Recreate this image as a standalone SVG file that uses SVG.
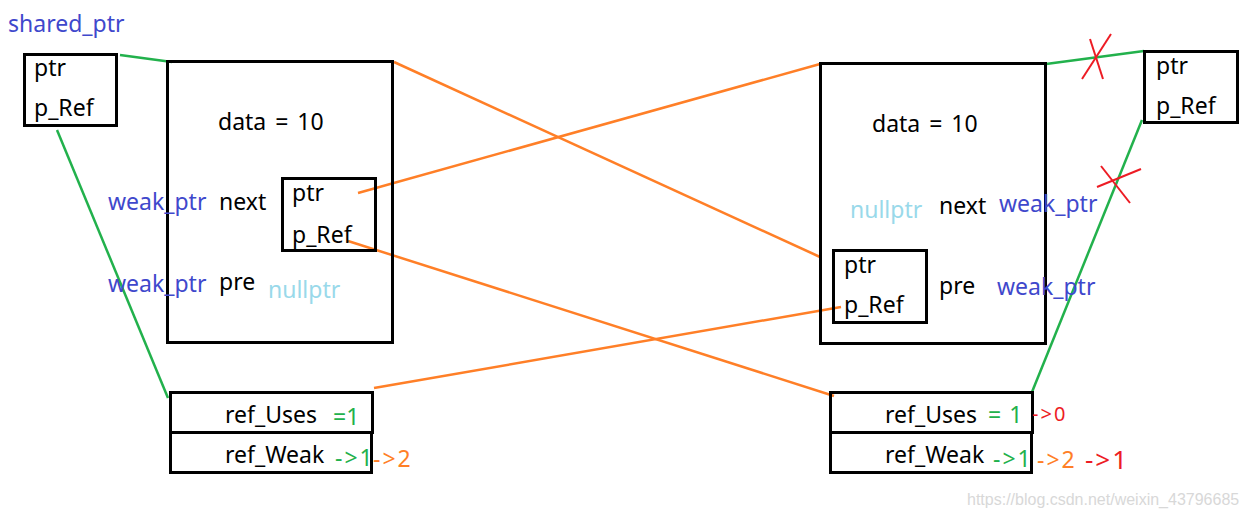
<svg xmlns="http://www.w3.org/2000/svg" width="1246" height="519" viewBox="0 0 1246 519">
<style>
.box{fill:none;stroke:#000;stroke-width:3}
.t{font-family:"Noto Sans","Open Sans",sans-serif;font-size:23px;fill:#000}
.a{letter-spacing:2px}
.b{fill:#3f48cc}
.lb{fill:#99d9ea}
.g{fill:#22b14c}
.o{fill:#ff7f27}
.r{fill:#ed1c24}
.gl{stroke:#22b14c;stroke-width:2.5;fill:none}
.ol{stroke:#ff7f27;stroke-width:2.5;fill:none}
.rl{stroke:#ed1c24;stroke-width:2;fill:none}
</style>
<rect width="1246" height="519" fill="#fff"/>
<g id="connectors">
<line class="gl" x1="120" y1="55" x2="172" y2="62"/>
<line class="gl" x1="57" y1="130" x2="168" y2="398"/>
<line class="gl" x1="1046" y1="64" x2="1144" y2="51"/>
<line class="gl" x1="1142" y1="120" x2="1032" y2="392"/>
<line class="ol" x1="394" y1="62" x2="820" y2="257"/>
<line class="ol" x1="358" y1="193" x2="820" y2="64"/>
<line class="ol" x1="348" y1="241" x2="834" y2="396"/>
<line class="ol" x1="374" y1="388" x2="841" y2="307"/>
<line class="rl" x1="1090" y1="39" x2="1103" y2="79"/>
<line class="rl" x1="1111" y1="34" x2="1082" y2="79"/>
<line class="rl" x1="1097" y1="187" x2="1141" y2="169"/>
<line class="rl" x1="1101" y1="166" x2="1130" y2="203"/>
</g>
<g id="left-shared">
<text class="t b" x="8" y="32">shared_ptr</text>
<rect class="box" x="24.5" y="54.5" width="92" height="71"/>
<text class="t" x="34" y="76">ptr</text>
<text class="t" x="34" y="116">p_Ref</text>
</g>
<g id="left-node">
<rect class="box" x="167.5" y="61.5" width="225" height="281"/>
<text class="t" x="218" y="130" style="word-spacing:3px">data = 10</text>
<text class="t b" x="108" y="210">weak_ptr</text>
<text class="t" x="219" y="210">next</text>
<text class="t b" x="108" y="292">weak_ptr</text>
<text class="t" x="219" y="290">pre</text>
<text class="t lb" x="268" y="298">nullptr</text>
</g>
<g id="left-inner">
<rect class="box" x="282.5" y="178.5" width="93" height="72"/>
<text class="t" x="292" y="201">ptr</text>
<text class="t" x="292" y="243">p_Ref</text>
</g>
<g id="left-ref">
<rect class="box" x="170.5" y="392.5" width="202" height="40"/>
<rect class="box" x="170.5" y="432.5" width="201" height="40"/>
<text class="t" x="225" y="423">ref_Uses</text>
<text class="t g" x="333" y="425">=1</text>
<text class="t" x="225" y="463">ref_Weak</text>
<text class="t g a" x="335" y="466">-&gt;1</text>
<text class="t o a" x="373" y="467">-&gt;2</text>
</g>
<g id="right-node">
<rect class="box" x="820.5" y="63.5" width="225" height="280"/>
<text class="t" x="872" y="132" style="word-spacing:3px">data = 10</text>
<text class="t lb" x="850" y="218">nullptr</text>
<text class="t" x="939" y="214">next</text>
<text class="t b" x="999" y="212">weak_ptr</text>
<text class="t" x="939" y="294">pre</text>
<text class="t b" x="997" y="295">weak_ptr</text>
</g>
<g id="right-inner">
<rect class="box" x="833.5" y="250.5" width="93" height="72"/>
<text class="t" x="844" y="273">ptr</text>
<text class="t" x="844" y="313">p_Ref</text>
</g>
<g id="right-shared">
<rect class="box" x="1144.5" y="51.5" width="93" height="71"/>
<text class="t" x="1156" y="74">ptr</text>
<text class="t" x="1156" y="114">p_Ref</text>
</g>
<g id="right-ref">
<rect class="box" x="830.5" y="392.5" width="202" height="40"/>
<rect class="box" x="830.5" y="432.5" width="201" height="40"/>
<text class="t" x="885" y="423">ref_Uses</text>
<text class="t g" x="988" y="423" style="word-spacing:2px">= 1</text>
<text class="t r a" x="1032" y="421" style="font-size:20px">-&gt;0</text>
<text class="t" x="885" y="463">ref_Weak</text>
<text class="t g a" x="993" y="467">-&gt;1</text>
<text class="t o a" x="1037" y="468">-&gt;2</text>
<text class="t r a" x="1085" y="469" style="font-size:26px">-&gt;1</text>
</g>
<text x="967" y="505" style="font-family:'Liberation Sans',Arial,sans-serif;font-size:16px;fill:#d8d8d8">https://blog.csdn.net/weixin_43796685</text>
</svg>
